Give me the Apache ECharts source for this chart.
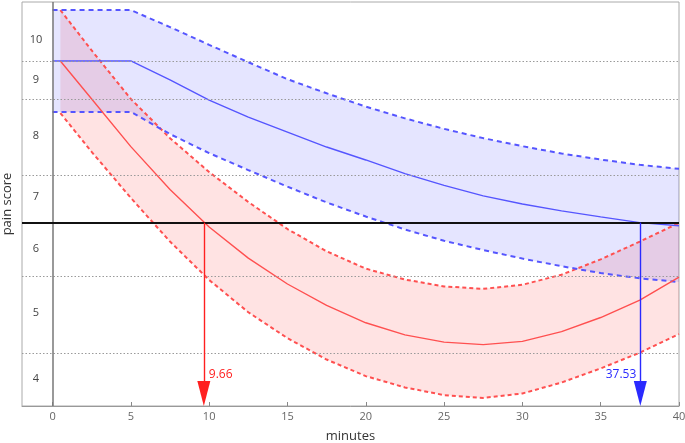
<!DOCTYPE html>
<html>
<head>
<meta charset="utf-8">
<title>pain score</title>
<script src="https://cdn.jsdelivr.net/npm/echarts@6/dist/echarts.min.js"></script>
<style>
  html, body { margin: 0; padding: 0; background: #fff; }
  #chart { width: 685px; height: 443px; }
</style>
</head>
<body>
<div id="chart"></div>
<script>
  // y is a transformed pain scale (0 bottom .. 100 top), labels sit at score positions
  const minutes = [0, 2.5, 5, 7.5, 10, 12.5, 15, 17.5, 20, 22.5, 25, 27.5, 30, 32.5, 35, 37.5, 40]
  const blueMid = [85.4, 85.4, 85.4, 80.7, 75.7, 71.5, 67.8, 64.1, 60.9, 57.5, 54.6, 52.0, 50.0, 48.3, 46.8, 45.4, 44.6]
  const blueHigh = [98.0, 98.0, 98.0, 93.8, 89.4, 85.1, 80.9, 77.4, 74.1, 71.2, 68.6, 66.3, 64.3, 62.5, 61.0, 59.7, 58.7]
  const blueLow = [72.8, 72.8, 72.8, 67.3, 62.6, 58.4, 54.3, 50.4, 46.9, 43.7, 40.9, 38.6, 36.5, 34.6, 32.9, 31.6, 30.7]

  const redMinutes = [0.5, 2.5, 5, 7.5, 10, 12.5, 15, 17.5, 20, 22.5, 25, 27.5, 30, 32.5, 35, 37.5, 40]
  const redMid = [85.4, 76.0, 64.2, 53.6, 44.3, 36.6, 30.2, 24.9, 20.6, 17.6, 15.8, 15.2, 16.0, 18.4, 21.9, 26.2, 31.9]
  const redHigh = [98.0, 88.0, 76.0, 66.3, 57.9, 50.5, 43.8, 38.3, 34.0, 31.3, 29.6, 29.0, 30.0, 32.5, 36.3, 40.7, 45.3]
  const redLow = [72.5, 62.9, 51.5, 40.7, 31.2, 23.2, 16.8, 11.5, 7.4, 4.6, 2.7, 2.0, 3.1, 5.8, 9.3, 13.2, 17.8]

  const scoreTicks = [90.6, 80.7, 66.8, 51.7, 38.9, 23.0, 6.7]
  const scoreLabels = ['10', '9', '8', '7', '6', '5', '4']
  const bandEdges = [85.4, 75.9, 57.2, 32.0, 13.0]
  const threshold = 45.4
  const xTicks = [0, 5, 10, 15, 20, 25, 30, 35, 40]
  const redCross = 9.66
  const blueCross = 37.53

  const COLOR = {
    blue: '#5555ff', blueArrow: '#2a2aff', blueFill: 'rgba(0,0,255,0.1)',
    red: '#ff5050', redArrow: '#ff2020', redFill: 'rgba(255,0,0,0.11)',
    grid: '#9a9a9a', text: '#444', tick: '#666'
  }

  const pairs = (xs, ys) => xs.map((x, i) => [x, ys[i]])

  const chart = echarts.init(document.getElementById('chart'))

  // 置信区间：上边界 + 反向下边界 围成多边形
  function bandSeries(xs, hi, lo, fill) {
    return {
      type: 'custom', coordinateSystem: 'cartesian2d', z: 1, silent: true, clip: true,
      data: [[xs[0], lo[0]]],
      renderItem: function (params, api) {
        let pts = xs.map((x, i) => api.coord([x, hi[i]]))
        for (let i = xs.length - 1; i >= 0; i--) pts.push(api.coord([xs[i], lo[i]]))
        return { type: 'polygon', shape: { points: pts }, style: { fill: fill } }
      }
    }
  }

  function lineSeries(xs, ys, color, dashed, width, extra) {
    return Object.assign({
      type: 'line', data: pairs(xs, ys), symbol: 'none', z: 3, silent: true,
      lineStyle: { color: color, width: width, type: dashed || 'solid' }
    }, extra || {})
  }

  const guideLines = bandEdges.map(v => ({
    yAxis: v, lineStyle: { color: COLOR.grid, width: 1, type: [1.5, 2] }
  }))
  guideLines.push({ xAxis: 0, lineStyle: { color: '#777', width: 1.5, type: 'solid' } })
  guideLines.push({ yAxis: threshold, lineStyle: { color: '#111', width: 2, type: 'solid' } })

  const option = {
    animation: false,
    textStyle: { fontFamily: 'Open Sans' },
    grid: {
      left: 22, right: 6, top: 2, bottom: 37, outerBoundsMode: 'none', containLabel: false,
      show: true, borderColor: '#aaa', borderWidth: 1
    },
    xAxis: {
      type: 'value', min: -1.95, max: 40,
      name: 'minutes', nameLocation: 'middle', nameGap: 24,
      nameTextStyle: { color: '#333', fontSize: 13 },
      axisLine: { show: true, lineStyle: { color: '#999' } },
      axisTick: { show: true, inside: true, length: 4, customValues: xTicks, lineStyle: { color: '#888' } },
      axisLabel: { customValues: xTicks, color: COLOR.tick, fontSize: 11, margin: 5 },
      splitLine: { show: false }
    },
    yAxis: {
      type: 'value', min: 0, max: 100,
      name: 'pain score', nameLocation: 'middle', nameGap: 8,
      nameTextStyle: { color: '#333', fontSize: 13 },
      axisLine: { show: false },
      axisTick: { show: false },
      splitLine: { show: false },
      axisLabel: {
        inside: true, align: 'center', margin: 14, color: COLOR.text, fontSize: 11,
        customValues: scoreTicks,
        formatter: v => scoreLabels[scoreTicks.indexOf(v)] || ''
      }
    },
    series: [
      bandSeries(redMinutes, redHigh, redLow, COLOR.redFill),
      bandSeries(minutes, blueHigh, blueLow, COLOR.blueFill),
      lineSeries(redMinutes, redHigh, COLOR.red, [4, 3], 2),
      lineSeries(redMinutes, redLow, COLOR.red, [4, 3], 2),
      lineSeries(minutes, blueHigh, COLOR.blue, [5, 4], 2),
      lineSeries(minutes, blueLow, COLOR.blue, [5, 4], 2),
      lineSeries(minutes, blueMid, COLOR.blue, null, 1.4, {
        markLine: { silent: true, symbol: 'none', label: { show: false }, data: guideLines }
      }),
      lineSeries(redMinutes, redMid, COLOR.red, null, 1.4, {
        z: 4,
        markLine: {
          silent: true, symbol: ['none', 'triangle'], symbolSize: [13, 25],
          label: { show: false },
          data: [
            [{ coord: [redCross, threshold] }, { coord: [redCross, 3.1] }],
          ],
          lineStyle: { color: COLOR.redArrow, width: 1.4, type: 'solid' }
        },
        markPoint: {
          silent: true, symbol: 'circle', symbolSize: 0,
          data: [{ coord: [redCross, 7.7], value: redCross }],
          label: { show: true, position: 'right', distance: 5, color: COLOR.redArrow, fontSize: 12, formatter: String(redCross) }
        }
      }),
      {
        type: 'line', data: pairs([blueCross], [threshold]), symbol: 'none', z: 4, silent: true,
        lineStyle: { opacity: 0 },
        markLine: {
          silent: true, symbol: ['none', 'triangle'], symbolSize: [13, 25],
          label: { show: false },
          data: [
            [{ coord: [blueCross, threshold] }, { coord: [blueCross, 3.1] }],
          ],
          lineStyle: { color: COLOR.blueArrow, width: 1.4, type: 'solid' }
        },
        markPoint: {
          silent: true, symbol: 'circle', symbolSize: 0,
          data: [{ coord: [blueCross, 7.7], value: blueCross }],
          label: { show: true, position: 'left', distance: 4, color: COLOR.blueArrow, fontSize: 12, formatter: String(blueCross) }
        }
      }
    ]
  }

  chart.setOption(option)
</script>
</body>
</html>
